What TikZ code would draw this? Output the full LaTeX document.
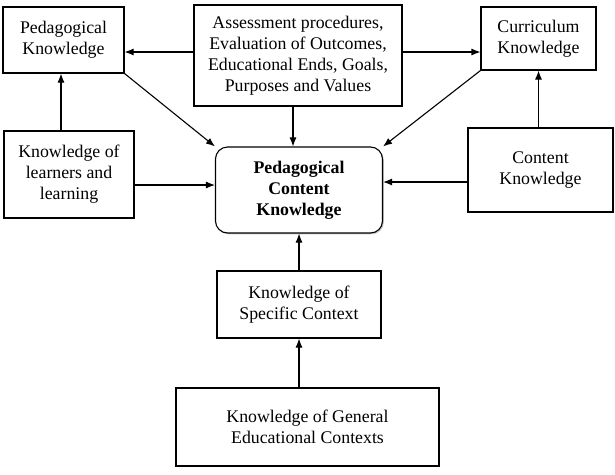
\documentclass[tikz,border=0pt]{standalone}
\usepackage{fontspec}
\setmainfont{Liberation Serif}
\usetikzlibrary{arrows.meta,shadows}
\begin{document}
\begin{tikzpicture}[x=1pt, y=-1pt, >={Latex[length=9pt,width=7pt]},
      font=\fontsize{17.8}{21}\selectfont, line width=1.1pt,
      box/.style={draw, fill=white, align=center, inner sep=2pt,
        drop shadow={shadow xshift=1.3pt, shadow yshift=-1.3pt, fill=black!45}},
      hub/.style={box, rounded corners=12pt, font=\fontsize{17.8}{21}\selectfont\bfseries}]
    \useasboundingbox (0,0) rectangle (615,474);
    \node[box, minimum width=121pt, minimum height=66pt] (pk) at (63.5,40) {Pedagogical\\Knowledge};
    \node[box, minimum width=208pt, minimum height=101pt] (assess) at (298,55.5) {Assessment procedures,\\Evaluation of Outcomes,\\Educational Ends, Goals,\\Purposes and Values};
    \node[box, minimum width=115pt, minimum height=63pt] (curr) at (538.5,38.5) {Curriculum\\Knowledge};
    \node[box, minimum width=130pt, minimum height=87pt] (learn) at (69,174.5) {Knowledge of\\learners and\\learning};
    \node[hub, minimum width=167pt, minimum height=86pt] (pck) at (299,190) {Pedagogical\\Content\\Knowledge};
    \node[box, minimum width=145pt, minimum height=84pt] (content) at (540.5,170) {Content\\Knowledge};
    \node[box, minimum width=164pt, minimum height=67pt] (spec) at (299,304.5) {Knowledge of\\Specific Context};
    \node[box, minimum width=263pt, minimum height=78pt] (gen) at (307.5,427) {Knowledge of General\\Educational Contexts};
    \draw[->] ([yshift=3.5pt]assess.west) -- ([yshift=3.5pt]assess.west -| pk.east);
    \draw[->] ([yshift=3.5pt]assess.east) -- ([yshift=3.5pt]assess.east -| curr.west);
    \draw[->] (pk.south east) -- (pck.north west);
    \draw[->] ([xshift=-5pt]assess.south) -- ([xshift=-5pt]assess.south |- pck.north);
    \draw[->] (curr.south west) -- (pck.north east);
    \draw[->] ([xshift=-2.5pt]pk.south |- learn.north) -- ([xshift=-2.5pt]pk.south);
    \draw[->] ([yshift=-10.5pt]learn.east) -- ([yshift=-10.5pt]learn.east -| pck.west);
    \draw[->] ([yshift=-12pt]content.west) -- ([yshift=-12pt]content.west -| pck.east);
    \draw[->] (curr.south |- content.north) -- (curr.south);
    \draw[->] (spec.north) -- (spec.north |- pck.south);
    \draw[->] (spec.south |- gen.north) -- (spec.south);
  \end{tikzpicture}
\end{document}
